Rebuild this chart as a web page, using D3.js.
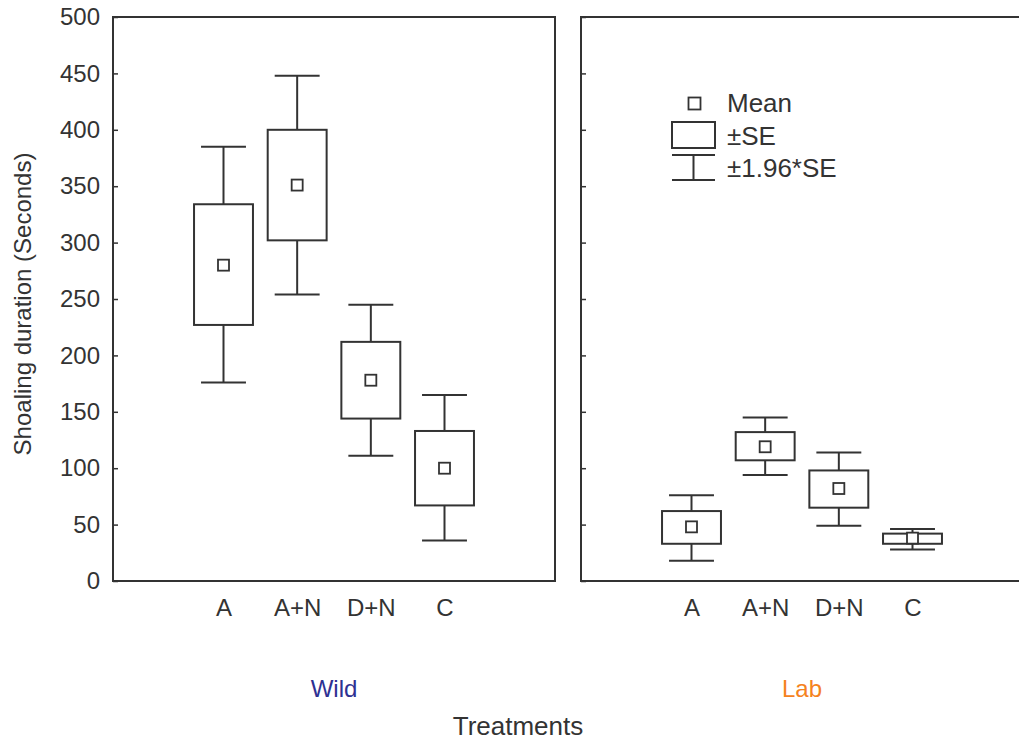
<!DOCTYPE html>
<html>
<head>
<meta charset="utf-8">
<script src="https://cdn.jsdelivr.net/npm/d3@7"></script>
<style>
  body { margin: 0; background: #fff; }
  text { font-family: "Liberation Sans", Arial, sans-serif; fill: #333; }
</style>
</head>
<body>
<div id="chart"></div>
<script>
const categories = ["A", "A+N", "D+N", "C"];
const groups = ["Wild", "Lab"];
const groupColors = {Wild: "#2e3192", Lab: "#f58220"};
const yTicks = [0, 50, 100, 150, 200, 250, 300, 350, 400, 450, 500];

// mean, mean-SE, mean+SE, mean-1.96SE, mean+1.96SE
const wildMean = [280, 351, 178, 100];
const wildSeLow = [227, 302, 144, 67];
const wildSeHigh = [334, 400, 212, 133];
const wildCiLow = [176, 254, 111, 36];
const wildCiHigh = [385, 448, 245, 165];

const labMean = [48, 119, 82, 38];
const labSeLow = [33, 107, 65, 33];
const labSeHigh = [62, 132, 98, 42];
const labCiLow = [18, 94, 49, 28];
const labCiHigh = [76, 145, 114, 46];

const rows = (mean, seL, seH, ciL, ciH) => categories.map((c, i) => ({
	cat: c, mean: mean[i], seL: seL[i], seH: seH[i], ciL: ciL[i], ciH: ciH[i]
}));

const panels = [
	{name: "Wild", x0: 113, data: rows(wildMean, wildSeLow, wildSeHigh, wildCiLow, wildCiHigh)},
	{name: "Lab", x0: 581, data: rows(labMean, labSeLow, labSeHigh, labCiLow, labCiHigh)}
];

const W = 1019, H = 740;
const panelW = 442, plotTop = 17, plotBottom = 581;
const stroke = "#333";

const svg = d3.select("#chart").append("svg").attr("width", W).attr("height", H);

const y = d3.scaleLinear().domain([0, 500]).range([plotBottom, plotTop]);

panels.forEach((p, pi) => {
	const x = d3.scalePoint().domain(categories).range([p.x0, p.x0 + panelW]).padding(1.5);
	const step = x.step();
	const boxW = step * 0.8, capW = step * 0.61, m = 11;

	const g = svg.append("g");

	// frame
	g.append("rect")
		.attr("x", p.x0).attr("y", plotTop)
		.attr("width", panelW).attr("height", plotBottom - plotTop)
		.attr("fill", "none").attr("stroke", stroke).attr("stroke-width", 2);

	// y axis, inward ticks
	const yAxis = d3.axisLeft(y).tickValues(yTicks).tickSize(-5).tickPadding(13);
	if (pi > 0) yAxis.tickFormat("");
	const ya = g.append("g").attr("transform", `translate(${p.x0},0)`).call(yAxis);
	ya.select(".domain").remove();
	ya.selectAll("line").attr("stroke", stroke).attr("stroke-width", 1.5);
	ya.selectAll("text").style("font-size", "24px").attr("fill", "#333");

	// x axis labels
	const xAxis = d3.axisBottom(x).tickSize(0).tickPadding(18);
	const xa = g.append("g").attr("transform", `translate(0,${plotBottom})`).call(xAxis);
	xa.select(".domain").remove();
	xa.selectAll("text").style("font-size", "24px").attr("fill", "#333");

	const items = g.selectAll(".item").data(p.data).enter().append("g")
		.attr("fill", "none").attr("stroke", stroke).attr("stroke-width", 2);

	// whiskers
	items.append("line")
		.attr("x1", d => x(d.cat)).attr("x2", d => x(d.cat))
		.attr("y1", d => y(d.ciH)).attr("y2", d => y(d.ciL));
	items.append("line")
		.attr("x1", d => x(d.cat) - capW / 2).attr("x2", d => x(d.cat) + capW / 2)
		.attr("y1", d => y(d.ciH)).attr("y2", d => y(d.ciH));
	items.append("line")
		.attr("x1", d => x(d.cat) - capW / 2).attr("x2", d => x(d.cat) + capW / 2)
		.attr("y1", d => y(d.ciL)).attr("y2", d => y(d.ciL));

	// SE box
	items.append("rect")
		.attr("x", d => x(d.cat) - boxW / 2).attr("width", boxW)
		.attr("y", d => y(d.seH)).attr("height", d => y(d.seL) - y(d.seH))
		.attr("fill", "#fff");

	// mean marker
	items.append("rect")
		.attr("x", d => x(d.cat) - m / 2).attr("y", d => y(d.mean) - m / 2)
		.attr("width", m).attr("height", m)
		.attr("fill", "#fff").attr("stroke-width", 1.8);

	// group label
	svg.append("text")
		.attr("x", p.x0 + panelW / 2).attr("y", 697)
		.attr("text-anchor", "middle")
		.style("font-size", "24px")
		.style("fill", groupColors[p.name])
		.text(p.name);
});

// axis titles
svg.append("text")
	.attr("transform", "translate(31,304) rotate(-90)")
	.attr("text-anchor", "middle")
	.style("font-size", "24px")
	.text("Shoaling duration (Seconds)");

svg.append("text")
	.attr("x", 518).attr("y", 735)
	.attr("text-anchor", "middle")
	.style("font-size", "26px")
	.text("Treatments");

// legend
const lg = svg.append("g");
const sym = lg.append("g").attr("fill", "none").attr("stroke", stroke).attr("stroke-width", 2);
sym.append("rect").attr("x", 688.5).attr("y", 97.5).attr("width", 12).attr("height", 12).attr("stroke-width", 1.8);
sym.append("rect").attr("x", 672).attr("y", 122).attr("width", 43).attr("height", 26);
sym.append("line").attr("x1", 672).attr("x2", 715).attr("y1", 155).attr("y2", 155);
sym.append("line").attr("x1", 672).attr("x2", 715).attr("y1", 180).attr("y2", 180);
sym.append("line").attr("x1", 693.5).attr("x2", 693.5).attr("y1", 155).attr("y2", 180);

const legendLabels = ["Mean", "\u00b1SE", "\u00b11.96*SE"];
const legendY = [112, 145, 177];
lg.selectAll(".lt").data(legendLabels).enter().append("text")
	.attr("x", 727).attr("y", (d, i) => legendY[i])
	.style("font-size", "26px")
	.text(d => d);
</script>
</body>
</html>
